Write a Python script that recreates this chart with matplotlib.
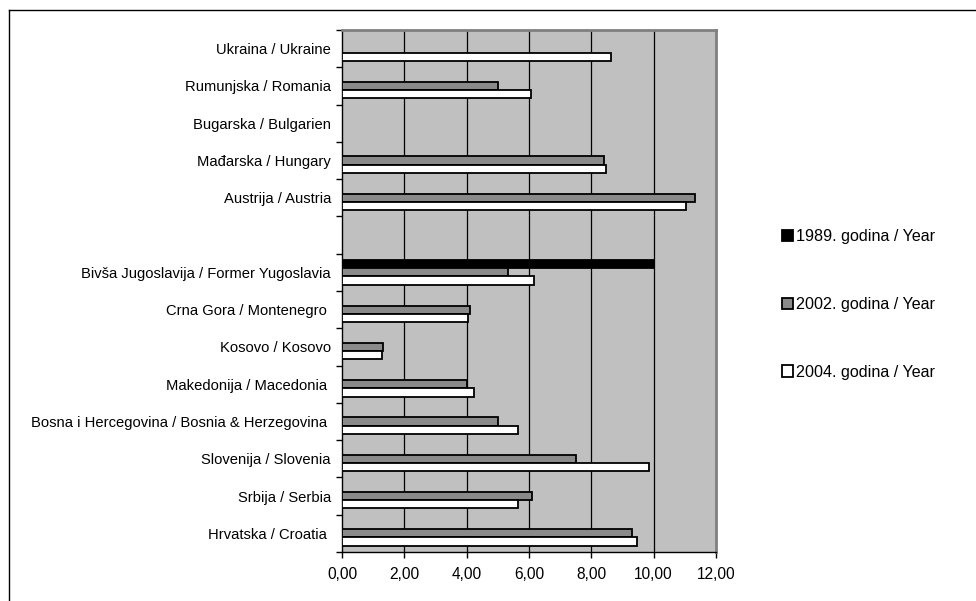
import numpy as np
import matplotlib
matplotlib.use("Agg")
import matplotlib.pyplot as plt
from matplotlib.patches import Patch
from matplotlib.lines import Line2D
from matplotlib.ticker import FixedLocator

plt.rcParams['font.family'] = ['Liberation Sans', 'DejaVu Sans']

categories = [
    "Hrvatska / Croatia ",
    "Srbija / Serbia",
    "Slovenija / Slovenia",
    "Bosna i Hercegovina / Bosnia & Herzegovina ",
    "Makedonija / Macedonia ",
    "Kosovo / Kosovo",
    "Crna Gora / Montenegro ",
    "Bivša Jugoslavija / Former Yugoslavia",
    "",
    "Austrija / Austria",
    "Mađarska / Hungary",
    "Bugarska / Bulgarien",
    "Rumunjska / Romania",
    "Ukraina / Ukraine",
]
nan = np.nan
y1989 = [nan, nan, nan, nan, nan, nan, nan, 10.00, nan, nan, nan, nan, nan, nan]
y2002 = [9.31, 6.11, 7.51, 5.01, 4.00, 1.31, 4.11, 5.34, nan, 11.32, 8.41, nan, 5.00, nan]
y2004 = [9.45, 5.66, 9.84, 5.64, 4.22, 1.28, 4.05, 6.17, nan, 11.05, 8.48, nan, 6.07, 8.64]
series_labels = ["1989. godina / Year", "2002. godina / Year", "2004. godina / Year"]
xticks = [0, 2, 4, 6, 8, 10, 12]
xticklabels = ["0,00", "2,00", "4,00", "6,00", "8,00", "10,00", "12,00"]

colors = ["#000000", "#8a8a8a", "#ffffff"]
offsets = [0.22, 0.0, -0.22]
h = 0.22

fig = plt.figure(figsize=(9.76, 6.01), dpi=100)
ax = fig.add_axes([342/976, 1 - 552/601, (716-342)/976, (552-30)/601])
ax.set_facecolor("#c0c0c0")

pos = np.arange(len(categories))
for vals, col, off in zip([y1989, y2002, y2004], colors, offsets):
    v = np.array(vals, dtype=float)
    m = ~np.isnan(v)
    ax.barh(pos[m] + off, v[m], height=h, color=col, edgecolor="black",
            linewidth=1.3, zorder=3)

ax.set_xlim(0, 12)
ax.set_ylim(-0.5, len(categories) - 0.5)
ax.set_xticks(xticks)
ax.set_xticklabels(xticklabels, fontsize=11.2)
ax.set_yticks(pos)
ax.set_yticklabels(categories, fontsize=10.6)
ax.yaxis.set_minor_locator(FixedLocator(np.arange(-0.5, len(categories), 1.0)))
ax.tick_params(axis='y', which='major', length=0, pad=8)
ax.tick_params(axis='y', which='minor', length=4, width=1, direction='out')
ax.tick_params(axis='x', which='major', length=4, width=1, direction='out', pad=7)

for x in xticks[1:-1]:
    ax.axvline(x, color="black", linewidth=0.9, zorder=1)

ax.spines['left'].set_color("black")
ax.spines['bottom'].set_color("black")
ax.spines['left'].set_linewidth(1)
ax.spines['bottom'].set_linewidth(1)
for s in ['top', 'right']:
    ax.spines[s].set_color("#808080")
    ax.spines[s].set_linewidth(2)

handles = [Patch(facecolor=c, edgecolor="black", linewidth=1.3) for c in colors]
fig.legend(handles, series_labels, loc="upper left",
           bbox_to_anchor=(782/976, 1 - 229/601), frameon=False,
           fontsize=11.6, handlelength=0.7, handleheight=0.7,
           handletextpad=0.2, labelspacing=3.28, borderaxespad=0, borderpad=0)

fig.add_artist(Line2D([9/976, 9/976], [0, 1 - 10/601], color="black",
                      linewidth=1, transform=fig.transFigure))
fig.add_artist(Line2D([9/976, 1], [1 - 10/601, 1 - 10/601], color="black",
                      linewidth=1, transform=fig.transFigure))

fig.savefig("out.png", dpi=100)
